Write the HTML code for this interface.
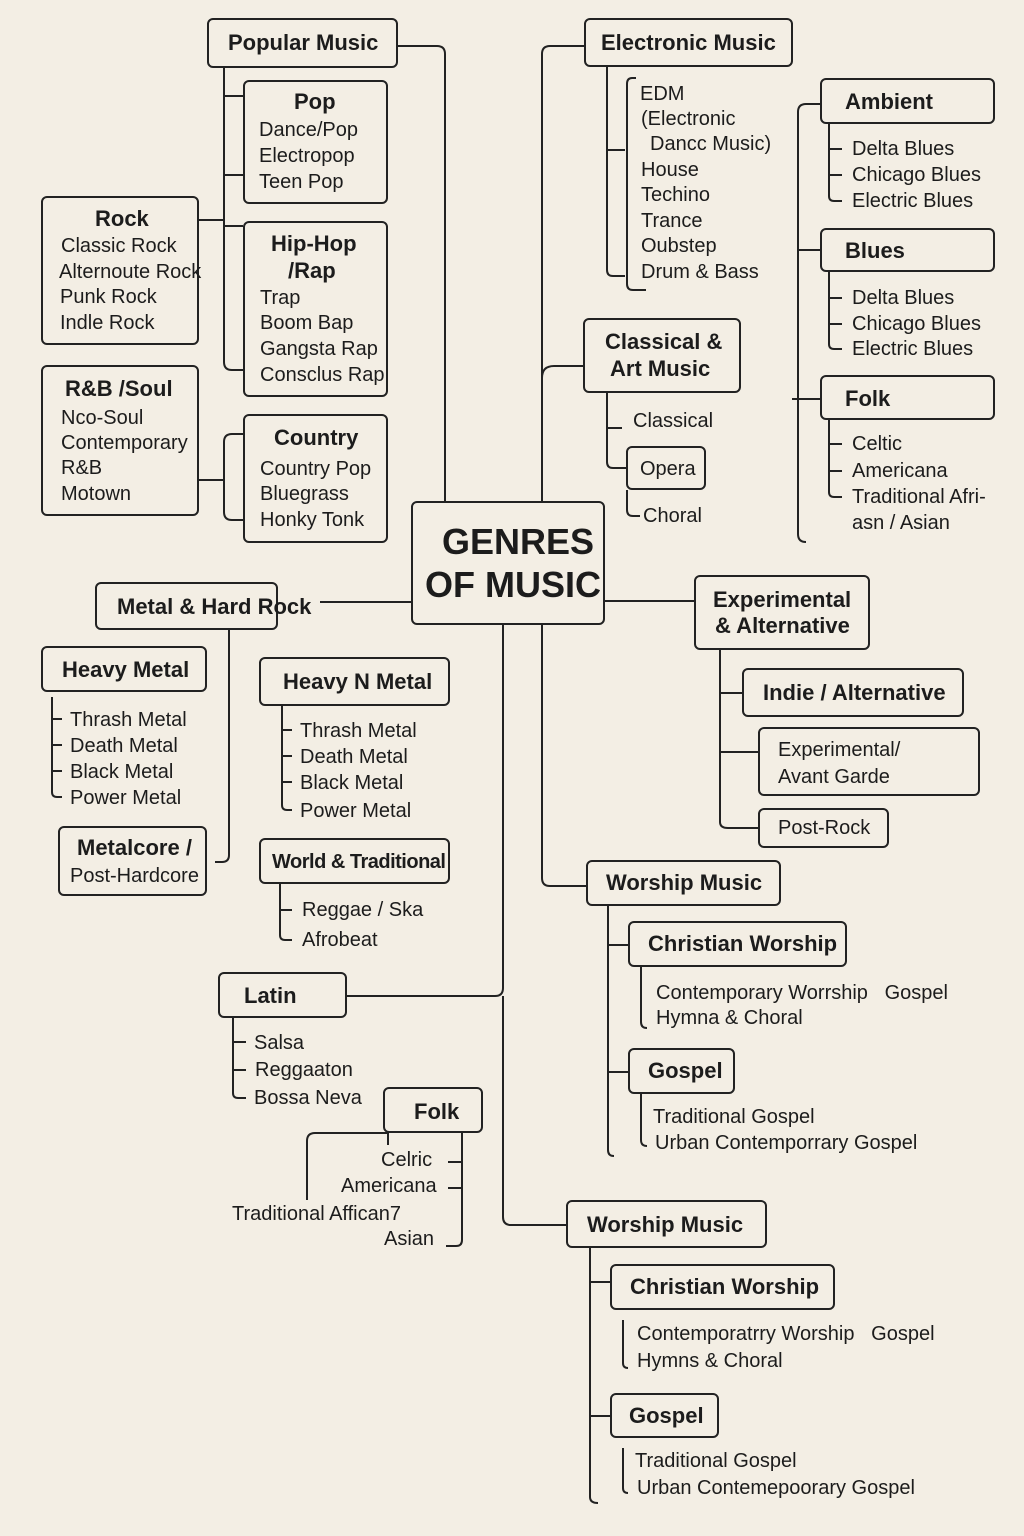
<!DOCTYPE html>
<html><head><meta charset="utf-8"><style>
body{margin:0;width:1024px;height:1536px;background:#f3eee4;position:relative;overflow:hidden;font-family:"Liberation Sans",sans-serif;color:#1c1c1c}
.b{position:absolute;border:2.5px solid #222;border-radius:6px;box-sizing:border-box;background:#f3eee4}
.h{position:absolute;font-weight:bold;font-size:22px;white-space:nowrap;line-height:1}
.t{position:absolute;font-size:20px;white-space:nowrap;line-height:1}
svg{position:absolute;left:0;top:0}
</style></head><body>
<svg width="1024" height="1536" fill="none" stroke="#222" stroke-width="2">
<path d="M398 46H437Q445 46 445 54V501"/>
<path d="M224 68V362Q224 370 232 370H243M224 96H243M224 175H243M224 220H199M224 226H243"/>
<path d="M243 434H232Q224 434 224 442V512Q224 520 232 520H243M199 480H224"/>
<path d="M320 602H411"/>
<path d="M229 630V855Q229 862 222 862H215"/>
<path d="M52 697V792Q52 797 57 797H62M52 719H62M52 745H62M52 771H62"/>
<path d="M282 706V805Q282 810 287 810H292M282 730H292M282 756H292M282 782H292"/>
<path d="M280 884V935Q280 940 285 940H292M280 910H292"/>
<path d="M347 996H495Q503 996 503 988V625"/>
<path d="M503 996V1217Q503 1225 511 1225H566"/>
<path d="M233 1018V1093Q233 1098 238 1098H246M233 1042H246M233 1070H246"/>
<path d="M388 1133H315Q307 1133 307 1141V1200M388 1128V1145"/>
<path d="M462 1133V1240Q462 1246 456 1246H446M448 1162H462M448 1188H462"/>
<path d="M590 1248V1497Q590 1503 598 1503M590 1282H610M590 1416H610"/>
<path d="M623 1320V1363Q623 1368 628 1368"/>
<path d="M623 1448V1488Q623 1493 628 1493"/>
<path d="M584 46H550Q542 46 542 54V501M542 625V878Q542 886 550 886H586M542 378Q542 366 554 366H583"/>
<path d="M607 67V270Q607 276 613 276H625M607 150H625"/>
<path d="M636 78H632Q627 78 627 84V284Q627 290 633 290H646"/>
<path d="M607 393V462Q607 468 613 468H626M607 428H622"/>
<path d="M627 490V510Q627 516 633 516H640"/>
<path d="M605 601H694"/>
<path d="M720 650V822Q720 828 728 828H758M720 693H742M720 752H758"/>
<path d="M820 104H806Q798 104 798 112V534Q798 542 806 542M798 250H820M792 399H820"/>
<path d="M829 124V196Q829 201 834 201H842M829 149H842M829 175H842"/>
<path d="M829 272V344Q829 349 834 349H842M829 298H842M829 324H842"/>
<path d="M829 420V492Q829 497 834 497H842M829 444H842M829 471H842"/>
<path d="M608 906V1150Q608 1156 614 1156M608 945H628M608 1072H628"/>
<path d="M641 967V1022Q641 1028 647 1028"/>
<path d="M641 1094V1140Q641 1146 647 1146"/>
</svg>

<div class="b" style="left:207px;top:18px;width:191px;height:50px"></div><div class="h" style="left:228px;top:32px">Popular Music</div>
<div class="b" style="left:243px;top:80px;width:145px;height:124px"></div>
<div class="h" style="left:294px;top:91px">Pop</div>
<div class="t" style="left:259px;top:120px">Dance/Pop</div><div class="t" style="left:259px;top:146px">Electropop</div><div class="t" style="left:259px;top:172px">Teen Pop</div>
<div class="b" style="left:41px;top:196px;width:158px;height:149px"></div>
<div class="h" style="left:95px;top:208px">Rock</div>
<div class="t" style="left:61px;top:236px">Classic Rock</div><div class="t" style="left:59px;top:262px">Alternoute Rock</div><div class="t" style="left:60px;top:287px">Punk Rock</div><div class="t" style="left:60px;top:313px">Indle Rock</div>
<div class="b" style="left:243px;top:221px;width:145px;height:176px"></div>
<div class="h" style="left:271px;top:233px">Hip-Hop</div><div class="h" style="left:288px;top:260px">/Rap</div>
<div class="t" style="left:260px;top:288px">Trap</div><div class="t" style="left:260px;top:313px">Boom Bap</div><div class="t" style="left:260px;top:339px">Gangsta Rap</div><div class="t" style="left:260px;top:365px">Consclus Rap</div>
<div class="b" style="left:41px;top:365px;width:158px;height:151px"></div>
<div class="h" style="left:65px;top:378px">R&amp;B /Soul</div>
<div class="t" style="left:61px;top:408px">Nco-Soul</div><div class="t" style="left:61px;top:433px">Contemporary</div><div class="t" style="left:61px;top:458px">R&amp;B</div><div class="t" style="left:61px;top:484px">Motown</div>
<div class="b" style="left:243px;top:414px;width:145px;height:129px"></div>
<div class="h" style="left:274px;top:427px">Country</div>
<div class="t" style="left:260px;top:459px">Country Pop</div><div class="t" style="left:260px;top:484px">Bluegrass</div><div class="t" style="left:260px;top:510px">Honky Tonk</div>

<div class="b" style="left:411px;top:501px;width:194px;height:124px"></div>
<div class="h" style="left:442px;top:524px;font-size:36px">GENRES</div>
<div class="h" style="left:425px;top:567px;font-size:36px">OF MUSIC</div>

<div class="b" style="left:95px;top:582px;width:183px;height:48px"></div><div class="h" style="left:117px;top:596px">Metal &amp; Hard Rock</div>
<div class="b" style="left:41px;top:646px;width:166px;height:46px"></div><div class="h" style="left:62px;top:659px">Heavy Metal</div>
<div class="t" style="left:70px;top:710px">Thrash Metal</div><div class="t" style="left:70px;top:736px">Death Metal</div><div class="t" style="left:70px;top:762px">Black Metal</div><div class="t" style="left:70px;top:788px">Power Metal</div>
<div class="b" style="left:58px;top:826px;width:149px;height:70px"></div>
<div class="h" style="left:77px;top:837px">Metalcore /</div><div class="t" style="left:70px;top:866px">Post-Hardcore</div>
<div class="b" style="left:259px;top:657px;width:191px;height:49px"></div><div class="h" style="left:283px;top:671px">Heavy N Metal</div>
<div class="t" style="left:300px;top:721px">Thrash Metal</div><div class="t" style="left:300px;top:747px">Death Metal</div><div class="t" style="left:300px;top:773px">Black Metal</div><div class="t" style="left:300px;top:801px">Power Metal</div>
<div class="b" style="left:259px;top:838px;width:191px;height:46px"></div><div class="h" style="left:272px;top:852px;font-size:20px;letter-spacing:-0.5px">World &amp; Traditional</div>
<div class="t" style="left:302px;top:900px">Reggae / Ska</div><div class="t" style="left:302px;top:930px">Afrobeat</div>
<div class="b" style="left:218px;top:972px;width:129px;height:46px"></div><div class="h" style="left:244px;top:985px">Latin</div>
<div class="t" style="left:254px;top:1033px">Salsa</div><div class="t" style="left:255px;top:1060px">Reggaaton</div><div class="t" style="left:254px;top:1088px">Bossa Neva</div>
<div class="b" style="left:383px;top:1087px;width:100px;height:46px"></div><div class="h" style="left:414px;top:1101px">Folk</div>
<div class="t" style="left:381px;top:1150px">Celric</div><div class="t" style="left:341px;top:1176px">Americana</div><div class="t" style="left:232px;top:1204px">Traditional Affican7</div><div class="t" style="left:384px;top:1229px">Asian</div>

<div class="b" style="left:566px;top:1200px;width:201px;height:48px"></div><div class="h" style="left:587px;top:1214px">Worship Music</div>
<div class="b" style="left:610px;top:1264px;width:225px;height:46px"></div><div class="h" style="left:630px;top:1276px">Christian Worship</div>
<div class="t" style="left:637px;top:1324px">Contemporatrry Worship &nbsp;&nbsp;Gospel</div><div class="t" style="left:637px;top:1351px">Hymns &amp; Choral</div>
<div class="b" style="left:610px;top:1393px;width:109px;height:45px"></div><div class="h" style="left:629px;top:1405px">Gospel</div>
<div class="t" style="left:635px;top:1451px">Traditional Gospel</div><div class="t" style="left:637px;top:1478px">Urban Contemepoorary Gospel</div>

<div class="b" style="left:584px;top:18px;width:209px;height:49px"></div><div class="h" style="left:601px;top:32px">Electronic Music</div>
<div class="t" style="left:640px;top:84px">EDM</div><div class="t" style="left:641px;top:109px">(Electronic</div><div class="t" style="left:650px;top:134px">Dancc Music)</div>
<div class="t" style="left:641px;top:160px">House</div><div class="t" style="left:641px;top:185px">Techino</div><div class="t" style="left:641px;top:211px">Trance</div><div class="t" style="left:641px;top:236px">Oubstep</div><div class="t" style="left:641px;top:262px">Drum &amp; Bass</div>
<div class="b" style="left:583px;top:318px;width:158px;height:75px"></div>
<div class="h" style="left:605px;top:331px">Classical &amp;</div><div class="h" style="left:610px;top:358px">Art Music</div>
<div class="t" style="left:633px;top:411px">Classical</div>
<div class="b" style="left:626px;top:446px;width:80px;height:44px"></div><div class="t" style="left:640px;top:459px">Opera</div>
<div class="t" style="left:643px;top:506px">Choral</div>

<div class="b" style="left:820px;top:78px;width:175px;height:46px"></div><div class="h" style="left:845px;top:91px">Ambient</div>
<div class="t" style="left:852px;top:139px">Delta Blues</div><div class="t" style="left:852px;top:165px">Chicago Blues</div><div class="t" style="left:852px;top:191px">Electric Blues</div>
<div class="b" style="left:820px;top:228px;width:175px;height:44px"></div><div class="h" style="left:845px;top:240px">Blues</div>
<div class="t" style="left:852px;top:288px">Delta Blues</div><div class="t" style="left:852px;top:314px">Chicago Blues</div><div class="t" style="left:852px;top:339px">Electric Blues</div>
<div class="b" style="left:820px;top:375px;width:175px;height:45px"></div><div class="h" style="left:845px;top:388px">Folk</div>
<div class="t" style="left:852px;top:434px">Celtic</div><div class="t" style="left:852px;top:461px">Americana</div><div class="t" style="left:852px;top:487px">Traditional Afri-</div><div class="t" style="left:852px;top:513px">asn / Asian</div>

<div class="b" style="left:694px;top:575px;width:176px;height:75px"></div>
<div class="h" style="left:713px;top:589px">Experimental</div><div class="h" style="left:715px;top:615px">&amp; Alternative</div>
<div class="b" style="left:742px;top:668px;width:222px;height:49px"></div><div class="h" style="left:763px;top:682px">Indie / Alternative</div>
<div class="b" style="left:758px;top:727px;width:222px;height:69px"></div>
<div class="t" style="left:778px;top:740px">Experimental/</div><div class="t" style="left:778px;top:767px">Avant Garde</div>
<div class="b" style="left:758px;top:808px;width:131px;height:40px"></div><div class="t" style="left:778px;top:818px">Post-Rock</div>

<div class="b" style="left:586px;top:860px;width:195px;height:46px"></div><div class="h" style="left:606px;top:872px">Worship Music</div>
<div class="b" style="left:628px;top:921px;width:219px;height:46px"></div><div class="h" style="left:648px;top:933px">Christian Worship</div>
<div class="t" style="left:656px;top:983px">Contemporary Worrship &nbsp;&nbsp;Gospel</div><div class="t" style="left:656px;top:1008px">Hymna &amp; Choral</div>
<div class="b" style="left:628px;top:1048px;width:107px;height:46px"></div><div class="h" style="left:648px;top:1060px">Gospel</div>
<div class="t" style="left:653px;top:1107px">Traditional Gospel</div><div class="t" style="left:655px;top:1133px">Urban Contemporrary Gospel</div>
</body></html>
